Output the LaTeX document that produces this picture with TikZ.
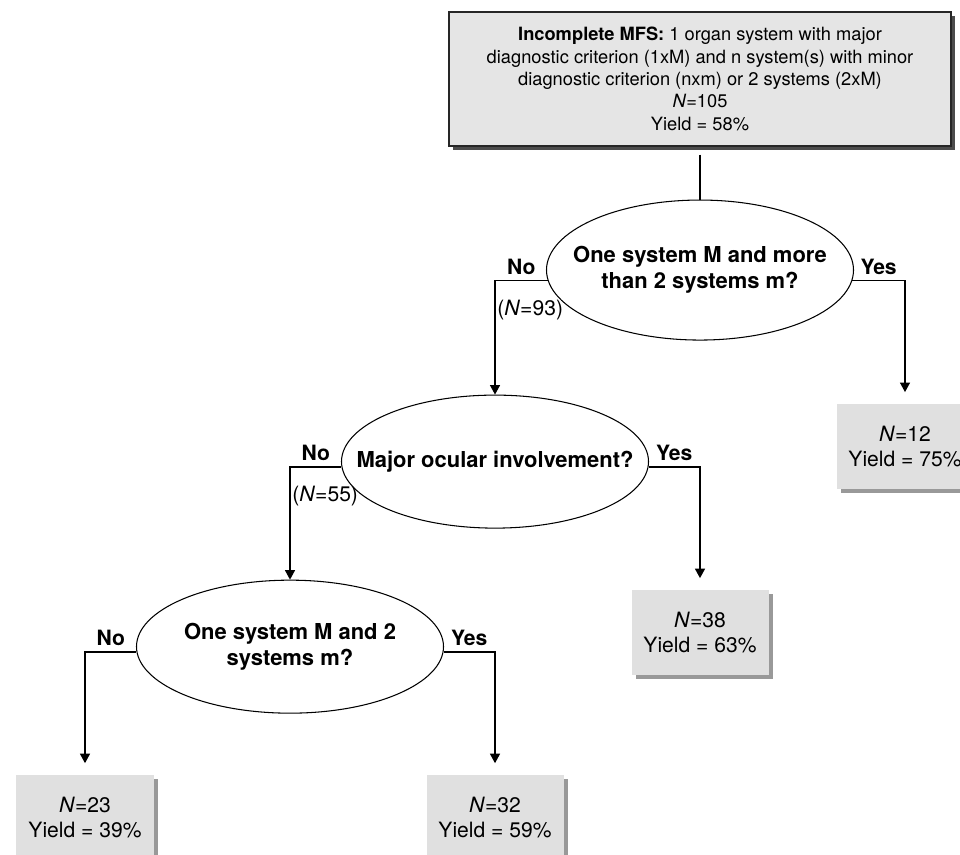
\documentclass[tikz,border=0pt]{standalone}
\usepackage{fontspec}
\setmainfont{TeX Gyre Heros}
\usetikzlibrary{positioning, shapes.geometric, shadows, arrows.meta}

\begin{document}
\begin{tikzpicture}[
    question/.style={ellipse, draw, line width=0.6pt, inner xsep=-0.8cm, inner ysep=0pt,
        minimum width=6.14cm, minimum height=2.66cm, align=center,
        font=\fontsize{12.5}{15}\selectfont\bfseries},
    outcome/.style={rectangle, fill=black!12, minimum width=2.74cm, minimum height=1.7cm,
        align=center, font=\fontsize{12}{14.5}\selectfont,
        drop shadow={shadow xshift=0.08cm, shadow yshift=-0.08cm, fill=black!40, opacity=1}},
    branch/.style={line width=0.7pt, -{Triangle[length=0.19cm, width=0.2cm]}},
    answer/.style={font=\fontsize{12}{14.5}\selectfont\bfseries},
    count/.style={font=\fontsize{12}{14.5}\selectfont, inner sep=1pt}
]
   \useasboundingbox (0,0) rectangle (19.2,17.08);
   % Starting group
   \node[rectangle, draw=black!85, line width=0.6pt, fill=black!10, minimum width=10.04cm, minimum height=2.68cm,
         align=center, font=\fontsize{10.4}{12.7}\selectfont,
         drop shadow={shadow xshift=0.08cm, shadow yshift=-0.08cm, fill=black!70, opacity=1}] (mfs) at (14.0,15.5)
        {\textbf{Incomplete MFS:} 1 organ system with major\\
         diagnostic criterion (1xM) and n system(s) with minor\\
         diagnostic criterion (nxm) or 2 systems (2xM)\\
         \textit{N}=105\\
         Yield = 58\%};
   % Questions
   \node[question, minimum height=2.8cm, below = 1.06cm of mfs] (q1) {One system M and more\\than 2 systems m?};
   \node[question, below = 1.08cm of q1, xshift=-4.1cm] (q2) {Major ocular involvement?};
   \node[question, below = 1.02cm of q2, xshift=-4.1cm] (q3) {One system M and 2\\systems m?};
   % Outcomes
   \node[outcome, below = 1.26cm of q1, xshift=4.1cm] (n12) {\textit{N}=12\\Yield = 75\%};
   \node[outcome, below = 1.22cm of q2, xshift=4.1cm] (n38) {\textit{N}=38\\Yield = 63\%};
   \node[outcome, below = 1.22cm of q3, xshift=-4.1cm] (n23) {\textit{N}=23\\Yield = 39\%};
   \node[outcome, below = 1.22cm of q3, xshift=4.1cm] (n32) {\textit{N}=32\\Yield = 59\%};
   % Connect the boxes
        \draw[line width=0.7pt, shorten <=0.16cm] (mfs.south) -- (q1.north);
        \draw[branch] (q1.184) -| node[answer, pos=0.25, above] {No}
            node[count, pos=0.63, right] {(\textit{N}=93)} (q2.north);
        \draw[branch, shorten >=0.23cm] (q1.356) -| node[answer, pos=0.25, above] {Yes} (n12.north);
        \draw[branch] (q2.182) -| node[answer, pos=0.25, above] {No}
            node[count, pos=0.63, right] {(\textit{N}=55)} (q3.north);
        \draw[branch, shorten >=0.23cm] (q2.358) -| node[answer, pos=0.25, above] {Yes} (n38.north);
        \draw[branch, shorten >=0.23cm] (q3.182) -| node[answer, pos=0.25, above] {No} (n23.north);
        \draw[branch, shorten >=0.23cm] (q3.358) -| node[answer, pos=0.25, above] {Yes} (n32.north);
\end{tikzpicture}
\end{document}
